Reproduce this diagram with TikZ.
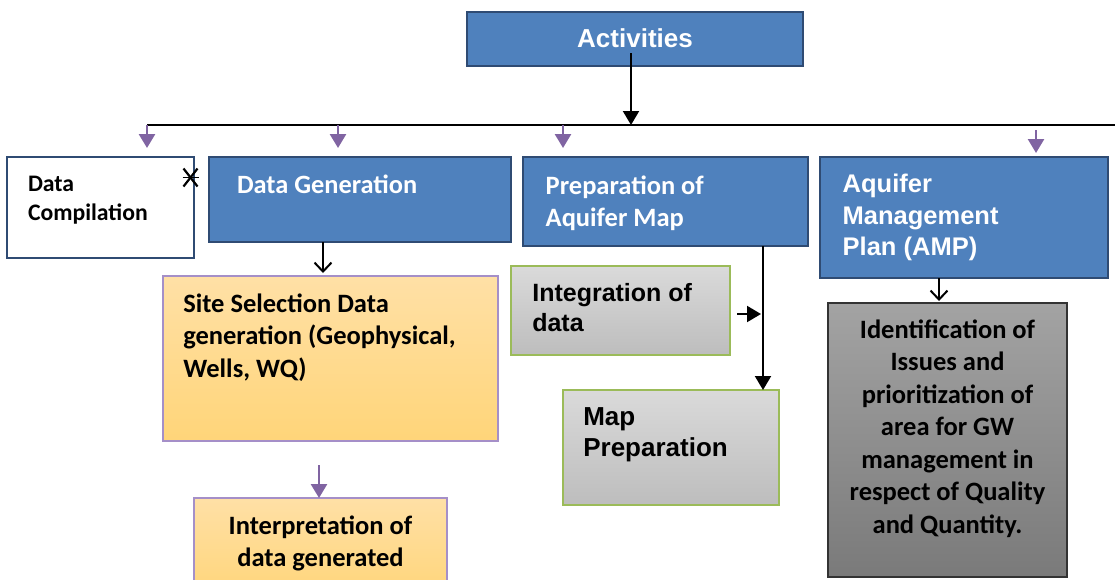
\documentclass[tikz,border=0pt]{standalone}
\usepackage{fontspec}
\setmainfont{Carlito}
\newfontfamily\calfont{Carlito}
\newfontfamily\arifont{Liberation Sans}
\usetikzlibrary{arrows.meta,calc}
\definecolor{boxblue}{HTML}{4F81BD}
\definecolor{boxedge}{HTML}{2F4B73}
\definecolor{arrpurple}{HTML}{8064A2}
\definecolor{siteedge}{HTML}{A58FC8}
\definecolor{sitetop}{HTML}{FFE0A6}
\definecolor{sitebot}{HTML}{FFD579}
\definecolor{graytop}{HTML}{DADADA}
\definecolor{graybot}{HTML}{BDBDBD}
\definecolor{greenedge}{HTML}{9BBB59}
\definecolor{darktop}{HTML}{A3A3A3}
\definecolor{darkbot}{HTML}{7A7A7A}
\begin{document}
\begin{tikzpicture}[x=1pt,y=-1pt,
  boxbase/.style={anchor=north west, inner sep=0pt, outer sep=0pt},
  bluebox/.style={boxbase, draw=boxedge, line width=1.8pt, fill=boxblue},
  whitebox/.style={boxbase, draw=boxedge, line width=1.6pt, fill=white},
  orangebox/.style={boxbase, draw=siteedge, line width=1.2pt, top color=sitetop, bottom color=sitebot},
  graybox/.style={boxbase, draw=greenedge, line width=1.2pt, top color=graytop, bottom color=graybot},
  darkbox/.style={boxbase, draw=black!80, line width=1.2pt, top color=darktop, bottom color=darkbot},
  txt/.style={inner sep=0pt, outer sep=0pt},
  calA/.style={txt, font=\calfont\bfseries\fontsize{26.5}{32.5}\selectfont},
  ariA/.style={txt, font=\arifont\bfseries\fontsize{26}{31}\selectfont},
  blackarrow/.style={draw=black, line width=2pt, -{Triangle[length=14pt,width=16pt]}},
  purplearrow/.style={draw=arrpurple, line width=2.6pt, -{Triangle[length=14pt,width=16pt]}},
  openarrow/.style={draw=black, line width=2pt, -{Straight Barb[length=9pt,width=17pt]}},
  busline/.style={draw=black, line width=2pt}
]
\clip (0,0) rectangle (1115,579);
\fill[white] (0,0) rectangle (1115,579);

% boxes
\node[bluebox, minimum width=336pt, minimum height=54pt] (act) at (467,12) {};
\node[whitebox, minimum width=187pt, minimum height=101pt] (dc) at (7,157) {};
\node[bluebox, minimum width=302pt, minimum height=85pt] (dg) at (209,157) {};
\node[bluebox, minimum width=285pt, minimum height=89pt] (pam) at (523,157) {};
\node[bluebox, minimum width=288pt, minimum height=121pt] (amp) at (820,157) {};
\node[orangebox, minimum width=335pt, minimum height=165pt] (site) at (163,276) {};
\node[orangebox, minimum width=253pt, minimum height=100pt] (interp) at (194,498) {};
\node[graybox, minimum width=219pt, minimum height=89pt] (integ) at (511,266) {};
\node[graybox, minimum width=216pt, minimum height=115pt] (mapp) at (563,390) {};
\node[darkbox, minimum width=239pt, minimum height=274pt] (ident) at (828,303) {};

% texts (anchor base = baseline of the last line)
\node[ariA, text=white, anchor=base] (actT) at (635,47.3) {Activities};
\node[calA, text=black, anchor=base west, align=left, font=\calfont\bfseries\fontsize{23.7}{29}\selectfont] (dcT) at (28,220) {Data\\Compilation};
\node[calA, text=white, anchor=base west, align=left, font=\calfont\bfseries\fontsize{26.4}{32}\selectfont] (dgT) at (237,193) {Data Generation};
\node[calA, text=white, anchor=base west, align=left, font=\calfont\bfseries\fontsize{26.5}{32.4}\selectfont] (pamT) at (545.7,226.7) {Preparation of\\Aquifer Map};
\node[ariA, text=white, anchor=base west, align=left, font=\arifont\bfseries\fontsize{25.5}{31.5}\selectfont] (ampT) at (842.7,255.7) {Aquifer\\Management\\Plan (AMP)};
\node[calA, text=black, anchor=base west, align=left] (siteT) at (183.3,377.3) {Site Selection Data\\generation (Geophysical,\\Wells, WQ)};
\node[calA, text=black, anchor=base, align=center] (interpT) at (320.5,566.8) {Interpretation of\\data generated};
\node[calA, text=black, anchor=base, align=center] (identT) at (947.5,533.3) {Identification of\\Issues and\\prioritization of\\area for GW\\management in\\respect of Quality\\and Quantity.};
\node[ariA, text=black, anchor=base west, align=left, font=\arifont\bfseries\fontsize{25}{30}\selectfont] (integT) at (532.3,331.7) {Integration of\\data};
\node[ariA, text=black, anchor=base west, align=left] (mappT) at (583.3,456.7) {Map\\Preparation};

% bus line and connectors
\coordinate (busL) at (147,125);
\coordinate (busR) at (1115,125);
\draw[busline] (busL) -- (busR);
\coordinate (actsrc) at (631,53);
\draw[blackarrow] (actsrc) -- (actsrc |- busL);

\coordinate (t1) at (147,125);
\coordinate (t2) at (338,125);
\coordinate (t3) at (563,125);
\coordinate (t4) at (1036,130);
\draw[purplearrow, shorten >=9pt] (t1) -- (t1 |- dc.north);
\draw[purplearrow, shorten >=9pt] (t2) -- (t2 |- dg.north);
\draw[purplearrow, shorten >=9pt] (t3) -- (t3 |- pam.north);
\draw[purplearrow, shorten >=4pt] (t4) -- (t4 |- amp.north);

\coordinate (c1) at (323,0);
\draw[openarrow, shorten >=3pt] (c1 |- dg.south) -- (c1 |- site.north);
\coordinate (c2) at (319,465);
\draw[purplearrow] (c2) -- (c2 |- interp.north);
\coordinate (c3) at (763,0);
\draw[blackarrow] (c3 |- pam.south) -- (c3 |- mapp.north);
\coordinate (c4) at (737,314);
\draw[blackarrow, shorten >=2pt] (c4) -- (c3 |- c4);
\coordinate (c5) at (939,0);
\draw[openarrow, shorten >=2pt] (c5 |- amp.south) -- (c5 |- ident.north);

% crossing marker between Data Compilation and Data Generation
\coordinate (xm) at (190.5,177.5);
\draw[black, line width=2.2pt] ($(xm)+(-7,-9)$) -- ($(xm)+(7,9)$);
\draw[black, line width=2.2pt] ($(xm)+(7,-9)$) -- ($(xm)+(-7,9)$);
\draw[black, line width=1.8pt] ($(xm)+(-8,0)$) -- ($(xm)+(8,0)$);
\end{tikzpicture}
\end{document}
